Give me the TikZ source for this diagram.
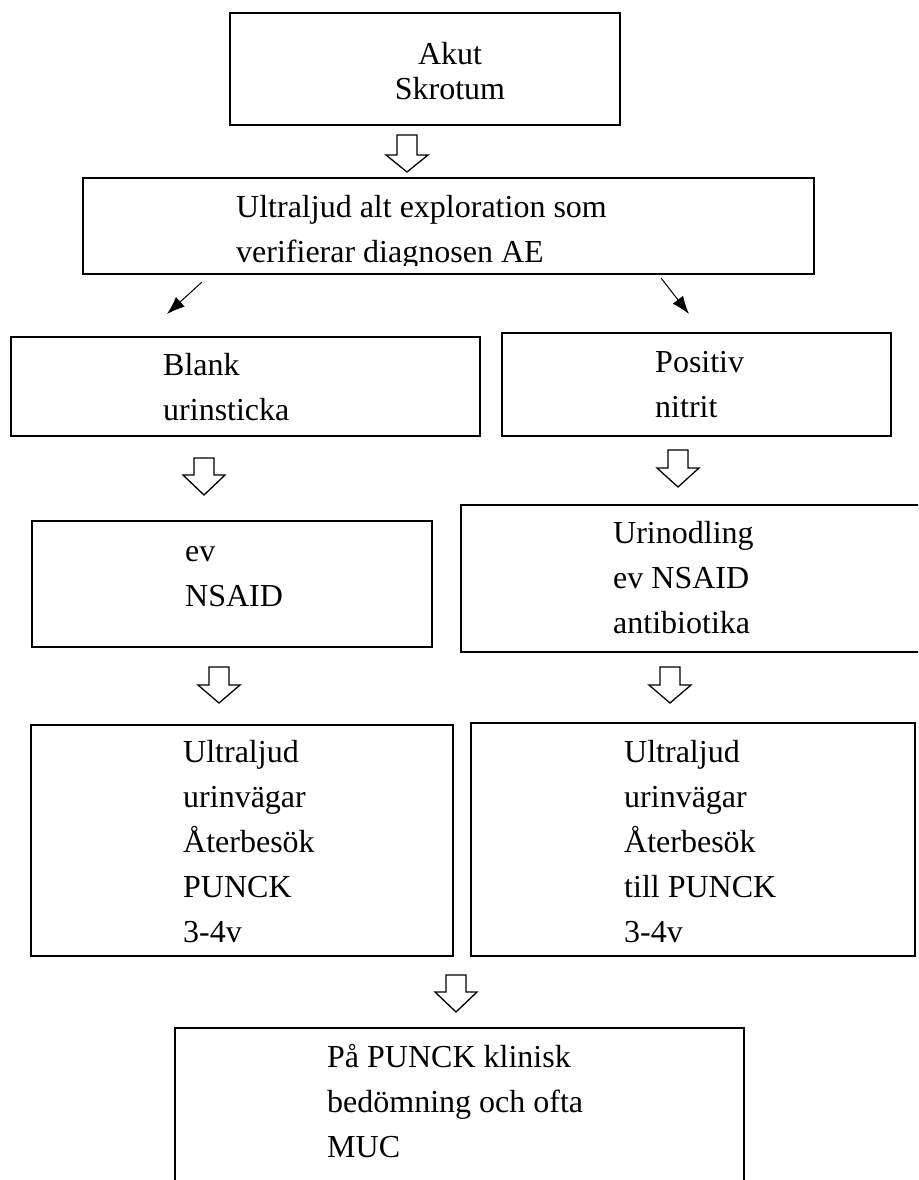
\documentclass[tikz,border=0pt]{standalone}
\usepackage{fontspec}
\setmainfont{Liberation Serif}
\usetikzlibrary{arrows.meta}

\tikzset{
  box/.style={draw, line width=1.2pt, inner sep=0pt},
  txt/.style={anchor=base west, align=left, inner sep=0pt, font=\fontsize{32}{45}\selectfont},
  thin arrow/.style={line width=1pt, -{Latex[length=18pt,width=13pt]}},
}
% hollow block arrow pointing down: x, top, neck, tip
\newcommand{\hollowdown}[4]{%
  \draw[line width=1.3pt, fill=white] (#1-10,#2) -- (#1+10,#2) -- (#1+10,#3) -- (#1+21,#3)
    -- (#1,#4) -- (#1-21,#3) -- (#1-10,#3) -- cycle;}

\begin{document}
\begin{tikzpicture}[x=1pt,y=-1pt]
    \useasboundingbox (0,0) rectangle (918,1180);
    \clip (0,0) rectangle (918,1180);

    % Top box (text placed by the baseline of its last line)
    \node[box, line width=2.6pt, minimum width=390pt, minimum height=112pt] (akut) at (425,69) {};
    \node[txt, anchor=base, align=center, font=\fontsize{32}{35}\selectfont] (akuttxt) at (450,100) {Akut\\Skrotum};
    \hollowdown{407}{135}{155}{172}

    % Diagnosis box, text cut off at the bottom
    \node[box, minimum width=731pt, minimum height=96pt] (ultra) at (448.5,226) {};
    \begin{scope}
        \clip (83,178) rectangle (814,265);
        \node[txt] (ultratxt) at (236,262) {Ultraljud alt exploration som\\verifierar diagnosen AE};
    \end{scope}

    % Split in two
    \coordinate (l0) at (202,282);
    \coordinate (l1) at (167,314);
    \coordinate (r0) at (661,278);
    \coordinate (r1) at (689,314);
    \draw[thin arrow] (l0) -- (l1);
    \draw[thin arrow] (r0) -- (r1);

    % Left column
    \node[box, minimum width=469pt, minimum height=99pt] (blank) at (245.5,386.5) {};
    \node[txt] (blanktxt) at (163,420) {Blank\\urinsticka};
    \hollowdown{204}{458}{475}{495}
    \node[box, minimum width=400pt, minimum height=126pt] (nsaid) at (232,584) {};
    \node[txt] (nsaidtxt) at (185,606) {ev\\NSAID};
    \hollowdown{219}{667}{685}{703}
    \node[box, minimum width=422pt, minimum height=231pt] (uleft) at (242,840.5) {};
    \node[txt] (ulefttxt) at (183,942) {Ultraljud\\urinvägar\\Återbesök\\PUNCK\\3-4v};

    % Right column
    \node[box, minimum width=389pt, minimum height=103pt] (positiv) at (696.5,384.5) {};
    \node[txt] (positivtxt) at (655,417) {Positiv\\nitrit};
    \hollowdown{678}{450}{468}{487}
    \node[box, minimum width=464pt, minimum height=147pt] (urin) at (693,578.5) {};
    \node[txt] (urintxt) at (613,633) {Urinodling\\ev NSAID\\antibiotika};
    \hollowdown{670}{667}{685}{703}
    \node[box, minimum width=444pt, minimum height=233pt] (uright) at (693,839.5) {};
    \node[txt] (urighttxt) at (624,942) {Ultraljud\\urinvägar\\Återbesök\\till PUNCK\\3-4v};

    % Joined again
    \hollowdown{456}{975}{992}{1012}
    \node[box, minimum width=569pt, minimum height=172pt] (punck) at (459.5,1114) {};
    \node[txt] (puncktxt) at (327,1157) {På PUNCK klinisk\\bedömning och ofta\\MUC};
\end{tikzpicture}
\end{document}
